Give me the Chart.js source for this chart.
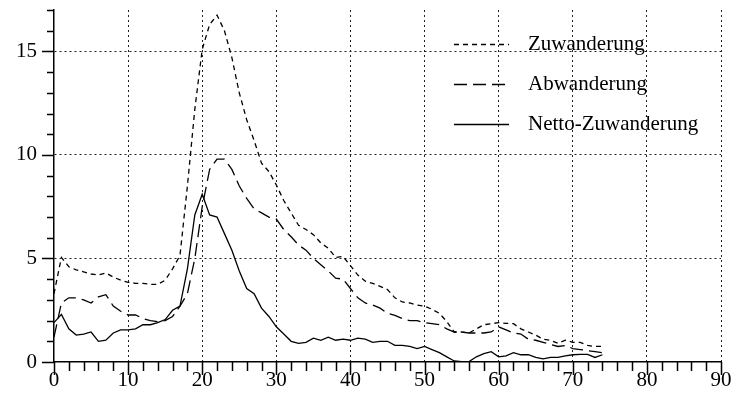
<!DOCTYPE html>
<html>
<head>
<meta charset="utf-8">
<script src="https://cdn.jsdelivr.net/npm/chart.js@4/dist/chart.umd.min.js"></script>
<style>
  html, body { margin: 0; padding: 0; background: #fff; }
  #wrap { width: 731px; height: 402px; }
</style>
</head>
<body>
<div id="wrap"><canvas id="migrationChart"></canvas></div>
<script>
// Alter in Jahren
var ages = [0, 1, 2, 3, 4, 5, 6, 7, 8, 9, 10, 11, 12, 13, 14, 15, 16, 17, 18, 19,
  20, 21, 22, 23, 24, 25, 26, 27, 28, 29, 30, 31, 32, 33, 34, 35, 36, 37, 38, 39,
  40, 41, 42, 43, 44, 45, 46, 47, 48, 49, 50, 51, 52, 53, 54, 55, 56, 57, 58, 59,
  60, 61, 62, 63, 64, 65, 66, 67, 68, 69, 70, 71, 72, 73, 74];

var zuwanderung = [3.3, 5.05, 4.6, 4.45, 4.35, 4.25, 4.2, 4.3, 4.1, 3.95,
  3.85, 3.8, 3.8, 3.75, 3.75, 3.95, 4.5, 5.15, 8.5, 12.2,
  15.1, 16.3, 16.75, 16.0, 14.7, 13.0, 11.7, 10.7, 9.6, 9.2,
  8.55, 7.8, 7.2, 6.6, 6.4, 6.15, 5.75, 5.5, 5.05, 5.1,
  4.65, 4.2, 3.9, 3.8, 3.65, 3.5, 3.1, 2.9, 2.85, 2.75,
  2.7, 2.55, 2.35, 1.95, 1.45, 1.45, 1.4, 1.6, 1.8, 1.85,
  1.9, 1.87, 1.85, 1.6, 1.45, 1.3, 1.1, 1.05, 0.9, 1.05,
  0.95, 0.95, 0.8, 0.75, 0.75];

var abwanderung = [1.2, 2.85, 3.1, 3.1, 3.0, 2.85, 3.15, 3.25, 2.7, 2.45,
  2.27, 2.27, 2.1, 2.0, 1.95, 2.0, 2.2, 2.7, 3.3, 5.0,
  7.5, 9.3, 9.8, 9.8, 9.3, 8.5, 7.9, 7.4, 7.2, 7.0,
  6.9, 6.4, 6.05, 5.65, 5.4, 5.0, 4.7, 4.4, 4.05, 4.0,
  3.55, 3.1, 2.85, 2.75, 2.6, 2.35, 2.25, 2.1, 2.0, 2.0,
  1.9, 1.85, 1.8, 1.6, 1.45, 1.45, 1.4, 1.4, 1.4, 1.45,
  1.7, 1.55, 1.4, 1.35, 1.1, 1.05, 0.95, 0.85, 0.75, 0.8,
  0.65, 0.6, 0.55, 0.5, 0.45];

var netto = [1.9, 2.3, 1.6, 1.3, 1.35, 1.45, 1.0, 1.05, 1.4, 1.55,
  1.55, 1.6, 1.8, 1.8, 1.9, 2.05, 2.5, 2.7, 4.5, 7.1,
  8.1, 7.1, 7.0, 6.2, 5.4, 4.4, 3.55, 3.3, 2.6, 2.2,
  1.7, 1.35, 1.0, 0.9, 0.95, 1.15, 1.05, 1.2, 1.05, 1.1,
  1.05, 1.15, 1.1, 0.95, 1.0, 1.0, 0.8, 0.8, 0.75, 0.65,
  0.75, 0.6, 0.45, 0.25, 0.05, 0.02, 0.02, 0.25, 0.4, 0.5,
  0.25, 0.3, 0.45, 0.35, 0.35, 0.22, 0.15, 0.22, 0.22, 0.3,
  0.35, 0.37, 0.37, 0.22, 0.35];

var seriesNames = ["Zuwanderung", "Abwanderung", "Netto-Zuwanderung"];
var xLabels = [0, 10, 20, 30, 40, 50, 60, 70, 80, 90];
var yLabels = [0, 5, 10, 15];

var FONT = "'Liberation Serif', 'Times New Roman', serif";

function toPoints(values) {
  var pts = [];
  for (var i = 0; i < values.length; i++) {
    pts.push({ x: ages[i], y: values[i] });
  }
  return pts;
}

// tick marks (long at labels, short between) and the legend in the upper right
var extrasPlugin = {
  id: "extras",
  afterDraw: function(chart) {
    var ctx = chart.ctx;
    var xs = chart.scales.x;
    var ys = chart.scales.y;
    var area = chart.chartArea;
    ctx.save();
    ctx.strokeStyle = "#000";
    ctx.lineWidth = 1.5;
    ctx.setLineDash([]);
    ctx.beginPath();
    for (var v = 0; v <= 90; v += 2) {
      var px = Math.round(xs.getPixelForValue(v)) + 0.5;
      var len = (xLabels.indexOf(v) >= 0) ? 13 : 9;
      ctx.moveTo(px, area.bottom);
      ctx.lineTo(px, area.bottom + len);
    }
    for (var w = 0; w <= 17; w++) {
      var py = Math.round(ys.getPixelForValue(w)) + 0.5;
      var l2 = (yLabels.indexOf(w) >= 0) ? 12 : 7;
      ctx.moveTo(area.left, py);
      ctx.lineTo(area.left - l2, py);
    }
    ctx.stroke();

    // legend
    var rowsY = [44, 84, 124];
    ctx.font = "21px " + FONT;
    ctx.fillStyle = "#000";
    ctx.textBaseline = "middle";
    chart.data.datasets.forEach(function(ds, i) {
      ctx.lineWidth = ds.borderWidth;
      ctx.setLineDash(ds.borderDash || []);
      ctx.beginPath();
      ctx.moveTo(454, rowsY[i] + 0.5);
      ctx.lineTo(509, rowsY[i] + 0.5);
      ctx.stroke();
      ctx.fillText(ds.label, 528, rowsY[i]);
    });
    ctx.restore();
  }
};

function init() {
  var ctx = document.getElementById("migrationChart");

  var chart = new Chart(ctx, {
    type: "line",
    data: {
      datasets: [
        {
          label: seriesNames[0],
          data: toPoints(zuwanderung),
          borderColor: "#000",
          borderWidth: 1.3,
          borderDash: [5, 4],
          pointRadius: 0,
          tension: 0,
          fill: false
        },
        {
          label: seriesNames[1],
          data: toPoints(abwanderung),
          borderColor: "#000",
          borderWidth: 1.3,
          borderDash: [13, 6],
          pointRadius: 0,
          tension: 0,
          fill: false
        },
        {
          label: seriesNames[2],
          data: toPoints(netto),
          borderColor: "#000",
          borderWidth: 1.3,
          pointRadius: 0,
          tension: 0,
          fill: false
        }
      ]
    },
    options: {
      responsive: true,
      maintainAspectRatio: false,
      animation: false,
      layout: { padding: { top: 10, right: 10, left: 0, bottom: 0 } },
      plugins: {
        legend: { display: false },
        tooltip: { enabled: false }
      },
      scales: {
        x: {
          type: "linear",
          min: 0,
          max: 90,
          afterFit: function(scale) {
            scale.height = 40;
            scale.paddingLeft = 0;
            scale.paddingRight = 0;
          },
          ticks: {
            stepSize: 2,
            autoSkip: false,
            maxRotation: 0,
            padding: 6,
            color: "#000",
            font: { family: FONT, size: 21 },
            callback: function(value) {
              return xLabels.indexOf(value) >= 0 ? String(value) : "";
            }
          },
          grid: {
            drawTicks: false,
            lineWidth: 1,
            color: function(c) {
              var v = c.tick ? c.tick.value : -1;
              return (v > 0 && xLabels.indexOf(v) >= 0) ? "#222" : "rgba(0,0,0,0)";
            }
          },
          border: { display: true, color: "#000", width: 1.5, dash: [2, 3] }
        },
        y: {
          min: 0,
          max: 17,
          afterFit: function(scale) {
            scale.width = 54;
            scale.paddingTop = 0;
            scale.paddingBottom = 0;
          },
          ticks: {
            stepSize: 1,
            autoSkip: false,
            padding: 17,
            color: "#000",
            font: { family: FONT, size: 21 },
            callback: function(value) {
              return yLabels.indexOf(value) >= 0 ? String(value) : "";
            }
          },
          grid: {
            drawTicks: false,
            lineWidth: 1,
            color: function(c) {
              var v = c.tick ? c.tick.value : -1;
              return (v > 0 && yLabels.indexOf(v) >= 0) ? "#222" : "rgba(0,0,0,0)";
            }
          },
          border: { display: true, color: "#000", width: 1.5, dash: [2, 3] }
        }
      }
    },
    plugins: [extrasPlugin]
  });
}

document.addEventListener("DOMContentLoaded", init);
</script>
</body>
</html>
